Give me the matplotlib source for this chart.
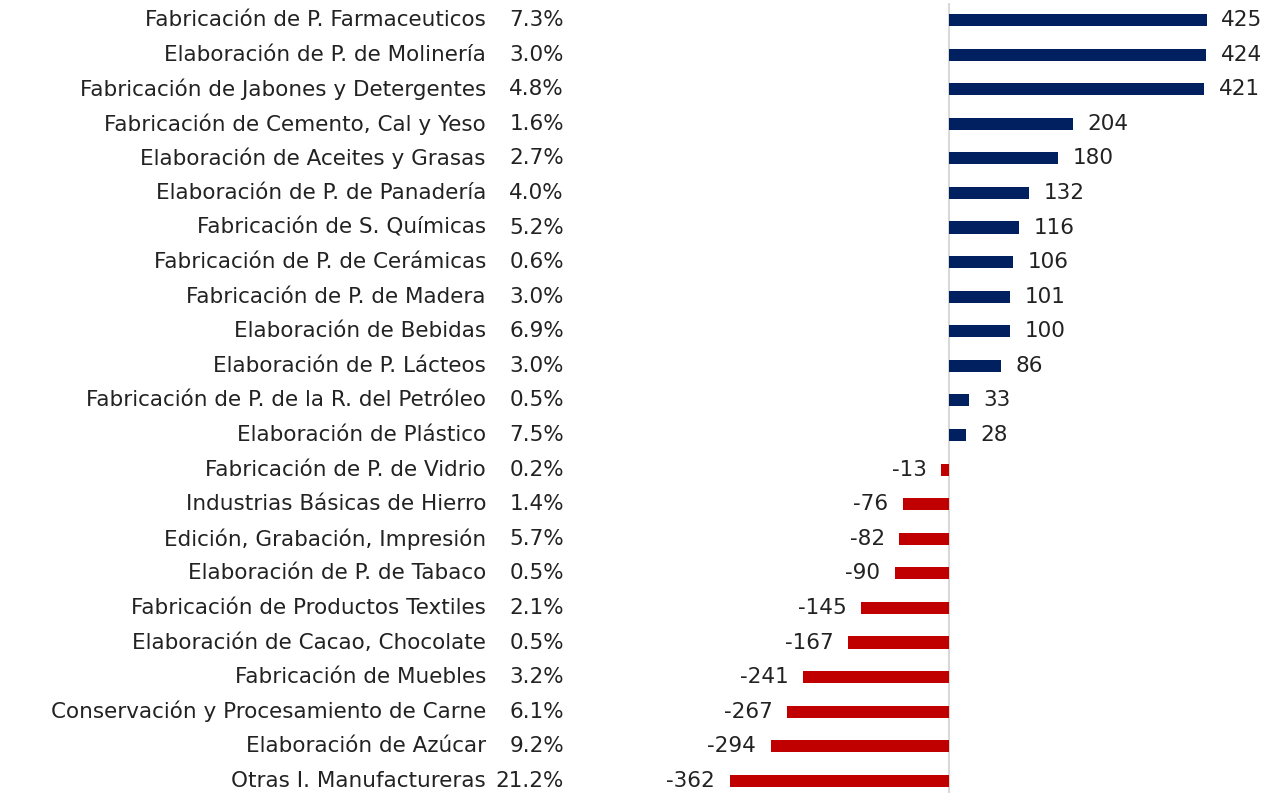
import matplotlib.pyplot as plt
from matplotlib.transforms import blended_transform_factory

categorias = [
    "Fabricación de P. Farmaceuticos",
    "Elaboración de P. de Molinería",
    "Fabricación de Jabones y Detergentes",
    "Fabricación de Cemento, Cal y Yeso",
    "Elaboración de Aceites y Grasas",
    "Elaboración de P. de Panadería",
    "Fabricación de S. Químicas",
    "Fabricación de P. de Cerámicas",
    "Fabricación de P. de Madera",
    "Elaboración de Bebidas",
    "Elaboración de P. Lácteos",
    "Fabricación de P. de la R. del Petróleo",
    "Elaboración de Plástico",
    "Fabricación de P. de Vidrio",
    "Industrias Básicas de Hierro",
    "Edición, Grabación, Impresión",
    "Elaboración de P. de Tabaco",
    "Fabricación de Productos Textiles",
    "Elaboración de Cacao, Chocolate",
    "Fabricación de Muebles",
    "Conservación y Procesamiento de Carne",
    "Elaboración de Azúcar",
    "Otras I. Manufactureras",
]
participacion = ["7.3%", "3.0%", "4.8%", "1.6%", "2.7%", "4.0%", "5.2%", "0.6%",
                 "3.0%", "6.9%", "3.0%", "0.5%", "7.5%", "0.2%", "1.4%", "5.7%",
                 "0.5%", "2.1%", "0.5%", "3.2%", "6.1%", "9.2%", "21.2%"]
valores = [425, 424, 421, 204, 180, 132, 116, 106, 101, 100, 86, 33, 28,
           -13, -76, -82, -90, -145, -167, -241, -267, -294, -362]

azul = "#002060"
rojo = "#C00000"
plt.rcParams['font.family'] = ['DejaVu Sans']

W, H = 1277, 793
fig = plt.figure(figsize=(W / 100, H / 100), dpi=100)
ax = fig.add_axes([640 / W, 0, (W - 640) / W, (H - 2.7) / H])

y = list(range(len(valores)))
colores = [azul if v >= 0 else rojo for v in valores]
ax.barh(y, valores, height=0.35, color=colores, zorder=2)
ax.set_xlim(-510, 541)
ax.set_ylim(22.35, -0.5)
ax.axvline(0, color="#d9d9d9", lw=1.5, zorder=1)
ax.axis("off")

fs = 15.5
txt = "#222222"
for yi, v in zip(y, valores):
    if v >= 0:
        ax.text(v + 24, yi, str(v), va="center", ha="left", fontsize=fs, color=txt)
    else:
        ax.text(v - 24, yi, str(v), va="center", ha="right", fontsize=fs, color=txt)

# etiquetas a la izquierda: nombre de la rama y su participación
tr = blended_transform_factory(fig.transFigure, ax.transData)
for yi, cat, p in zip(y, categorias, participacion):
    ax.text(486 / W, yi, cat, transform=tr, ha="right", va="center", fontsize=fs, color=txt)
    ax.text(564 / W, yi, p, transform=tr, ha="right", va="center", fontsize=fs, color=txt)

fig.savefig("out.png", dpi=100)
